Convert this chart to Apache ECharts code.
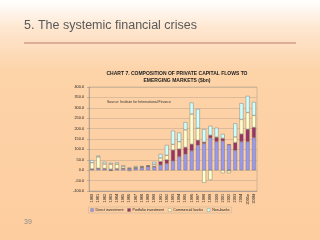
<!DOCTYPE html>
<html>
<head>
<meta charset="utf-8">
<script src="https://cdn.jsdelivr.net/npm/echarts@6/dist/echarts.min.js"></script>
<style>
  html, body { margin: 0; padding: 0; }
  body {
    width: 320px; height: 240px; overflow: hidden;
    background: linear-gradient(to bottom, #ffffff 0%, #fee6cf 12%, #fdd3a8 30%, #fdcd9f 100%);
  }
  #main { width: 320px; height: 240px; }
</style>
</head>
<body>
<div id="main"></div>
<script>
// years on the x axis
const years = ['1980', '1981', '1982', '1983', '1984', '1985', '1986', '1987', '1988', '1989',
  '1990', '1991', '1992', '1993', '1994', '1995', '1996', '1997', '1998', '1999',
  '2000', '2001', '2002', '2003', '2004', '2005e', '2006f']

// $bn
const directInvestment = [5, 8, 7, 5, 6, 8, 8, 10, 13, 17, 16, 25, 32, 44, 65, 77, 93, 120, 128, 155, 137, 140, 123, 95, 137, 137, 156]
const portfolioInvestment = [1, 1, 1, -3, 1, 1, 1, 1, 2, 3, 3, 17, 18, 53, 37, 33, 32, 24, 7, 13, 20, 13, -2, 38, 37, 60, 50]
const commercialBanks = [30, 55, 22, 24, 22, 9, -4, 3, 2, 1, 10, 17, 22, 27, 35, 84, 145, 58, -60, -47, 2, -14, -12, 27, 70, 80, 57]
const nonBanks = [12, 6, 10, 6, 8, 6, 3, 6, 3, 2, 11, 19, 49, 66, 44, 37, 55, 92, 62, 45, 45, 21, 1, 65, 78, 80, 65]

const yTicks = { min: -100, max: 400, step: 50 }

const myChart = echarts.init(document.getElementById('main'))

const barStyle = (color) => ({
  color: color,
  borderColor: '#6b6b6b',
  borderWidth: 0.4
})

const mkSeries = (name, data, color) => ({
  name: name,
  type: 'bar',
  stack: 'flows',
  barCategoryGap: '38%',
  itemStyle: barStyle(color),
  data: data
})

const option = {
  animation: false,
  textStyle: { fontFamily: 'Arial, Liberation Sans, sans-serif' },
  title: {
    text: 'CHART 7. COMPOSITION OF PRIVATE CAPITAL FLOWS TO\nEMERGING MARKETS ($bn)',
    left: 172,
    top: 65,
    textAlign: 'center',
    textStyle: {
      fontSize: 5,
      fontWeight: 'bold',
      color: '#222',
      lineHeight: 7
    }
  },
  graphic: [
    {
      type: 'text',
      left: 24,
      top: 19,
      style: { text: '5. The systemic financial crises', fontSize: 12.5, fill: '#595959', fontFamily: 'Arial, Liberation Sans, sans-serif' }
    },
    {
      type: 'line',
      shape: { x1: 24, y1: 43, x2: 296, y2: 43 },
      style: { stroke: '#bf7a6a', lineWidth: 1 }
    },
    {
      type: 'text',
      left: 24,
      top: 219,
      style: { text: '39', fontSize: 7, fill: '#8a8a8a', fontFamily: 'Arial, Liberation Sans, sans-serif' }
    },
    {
      type: 'text',
      left: 107,
      top: 100,
      style: { text: 'Source: Institute for International Finance', fontSize: 3.5, fill: '#333', fontFamily: 'Arial, Liberation Sans, sans-serif' }
    }
  ],
  legend: {
    bottom: 27,
    left: 'center',
    icon: 'rect',
    itemWidth: 3,
    itemHeight: 3,
    itemGap: 4,
    padding: [1, 2],
    borderColor: '#a0a0a0',
    borderWidth: 0.3,
    itemStyle: { borderColor: '#6b6b6b', borderWidth: 0.3 },
    textStyle: { fontSize: 3.6, color: '#222', padding: [0, 0, 0, -3] },
    data: ['Direct investment', 'Portfolio investment', 'Commercial banks', 'Non-banks']
  },
  grid: {
    left: 89,
    right: 63,
    top: 87,
    bottom: 49,
    show: true,
    borderColor: '#a89888',
    borderWidth: 0.5
  },
  xAxis: {
    type: 'category',
    data: years,
    axisLine: { onZero: false, lineStyle: { color: '#8a8a8a', width: 0.5 } },
    axisTick: { show: false },
    axisLabel: { rotate: 90, fontSize: 3.8, color: '#222', margin: 3, interval: 0 }
  },
  yAxis: {
    type: 'value',
    min: yTicks.min,
    max: yTicks.max,
    interval: yTicks.step,
    axisLine: { show: true, lineStyle: { color: '#8a8a8a', width: 0.5 } },
    axisTick: { show: true, length: 2, lineStyle: { color: '#8a8a8a', width: 0.5 } },
    splitLine: { lineStyle: { color: '#b9a590', width: 0.5 } },
    axisLabel: {
      fontSize: 3.8,
      color: '#222',
      margin: 5,
      formatter: (v) => v.toFixed(1)
    }
  },
  series: [
    mkSeries('Direct investment', directInvestment, '#9a99f0'),
    mkSeries('Portfolio investment', portfolioInvestment, '#993366'),
    mkSeries('Commercial banks', commercialBanks, '#ffffcc'),
    mkSeries('Non-banks', nonBanks, '#ccffff')
  ]
}

myChart.setOption(option)
window.addEventListener('resize', () => {
  myChart.resize()
})
</script>
</body>
</html>
